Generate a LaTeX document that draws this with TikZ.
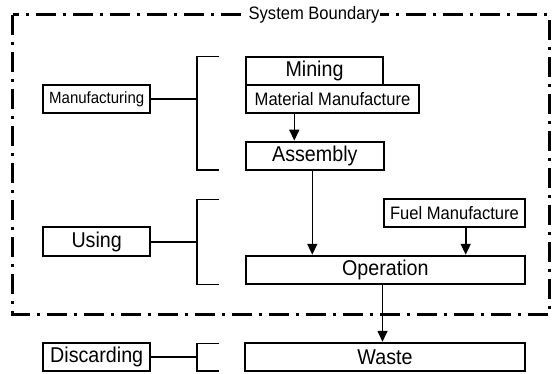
\documentclass[tikz,border=0pt]{standalone}
\usepackage{fontspec}
\setmainfont{Liberation Sans}[FakeStretch=0.92]
\usetikzlibrary{arrows.meta,positioning,calc}

\begin{document}
\begin{tikzpicture}[x=1pt, y=-1pt,
    >={Triangle[length=11pt,width=10pt]},
    box/.style={draw, line width=2pt, rectangle, inner sep=0pt,
        minimum height=28.5pt, font=\fontsize{21.4}{24}\selectfont},
    midbox/.style={box, font=\fontsize{18}{21}\selectfont},
    stage/.style={box, minimum width=106.7pt},
    link/.style={line width=1.6pt},
    boundary/.style={line width=3pt,
        dash pattern=on 20pt off 7pt on 3pt off 7pt}]
        \useasboundingbox (0,0) rectangle (553,374);

        % system boundary
        \draw[boundary] (12.7,15) rectangle (549.3,314);
        \node[fill=white, inner sep=1pt, font=\fontsize{18}{21}\selectfont] (sysb) at (314,15) {System Boundary};

        % process boxes
        \node[box, minimum width=137.6pt] (mining) at (314.5,71.2) {Mining};
        \node[midbox, minimum width=173.6pt] (matman) at (332.5,99.2) {Material Manufacture};
        \node[box, minimum width=138.3pt] (assembly) at (314.8,155.9) {Assembly};
        \node[midbox, minimum width=141pt] (fuel) at (454.5,212.9) {Fuel Manufacture};
        \node[box, minimum width=279.3pt] (operation) at (385.3,270) {Operation};
        \node[box, minimum width=280pt] (waste) at (385,357) {Waste};

        % stage boxes
        \node[stage, font=\fontsize{16.3}{19}\selectfont] (manuf) at (96.7,99.2) {Manufacturing};
        \node[stage] (using) at (96.7,241.7) {Using};
        \node[stage] (discard) at (96.7,357.2) {Discarding};

        % brackets
        \coordinate (b1) at (196.7,56.7);
        \coordinate (b2) at (196.7,199.3);
        \coordinate (b3) at (196.7,343.3);
        \draw[link] (219,56.7) -- (b1) -- (196.7,170) -- (219,170);
        \draw[link] (219,199.3) -- (b2) -- (196.7,284.3) -- (219,284.3);
        \draw[link] (219,343.3) -- (b3) -- (196.7,370.7) -- (219,370.7);

        % stage -> bracket
        \draw[link] (manuf.east) -- (manuf.east -| b1);
        \draw[link] (using.east) -- (using.east -| b2);
        \draw[link] (discard.east) -- (discard.east -| b3);

        % flow arrows
        \coordinate (x1) at (294.3,0);
        \coordinate (x2) at (312.3,0);
        \coordinate (x3) at (465.7,0);
        \coordinate (x4) at (382.5,0);
        \draw[link, ->] (x1 |- matman.south) -- (x1 |- assembly.north);
        \draw[link, ->] (x2 |- assembly.south) -- (x2 |- operation.north);
        \draw[link, ->] (x3 |- fuel.south) -- (x3 |- operation.north);
        \draw[link, ->] (x4 |- operation.south) -- (x4 |- waste.north);
    \end{tikzpicture}
\end{document}
